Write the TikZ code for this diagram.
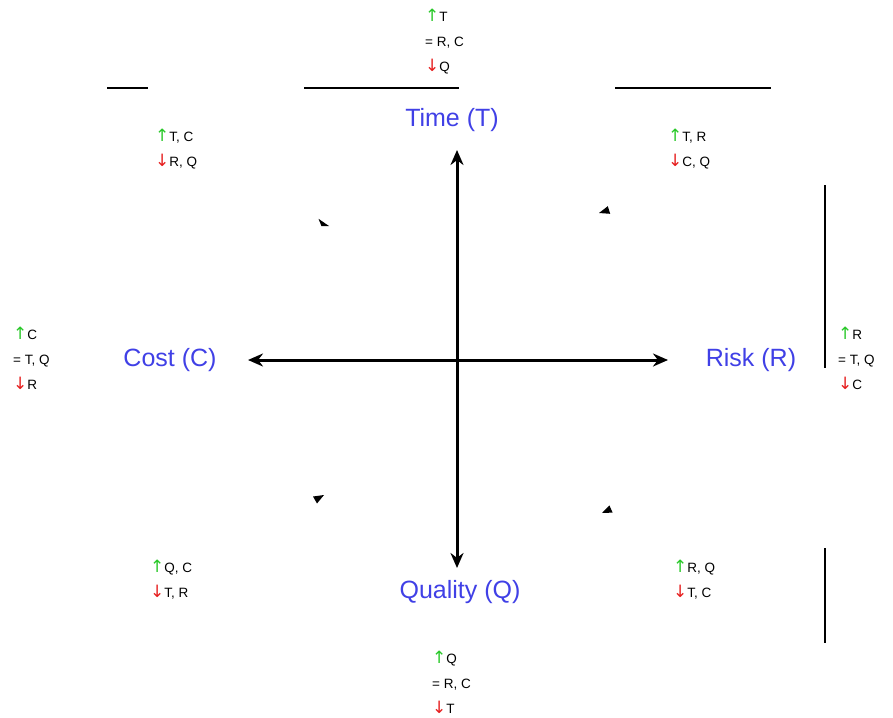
\documentclass[tikz,border=0pt]{standalone}
\usepackage{fontspec}
\setmainfont{Liberation Sans}
\newfontfamily\symfont{DejaVu Sans}
\usepackage{xcolor}
\usetikzlibrary{arrows.meta}

\definecolor{axisblue}{RGB}{64,64,230}
\definecolor{upgreen}{RGB}{40,200,40}
\definecolor{dnred}{RGB}{230,30,30}

\newcommand{\upar}{{\symfont\fontsize{17}{25}\selectfont\textcolor{upgreen}{↑}}}
\newcommand{\dnar}{{\symfont\fontsize{17}{25}\selectfont\textcolor{dnred}{↓}}}

\tikzset{
  axislabel/.style={text=axisblue,font=\fontsize{25}{27}\selectfont,inner sep=0pt},
  trade/.style={anchor=west,align=left,inner sep=0pt,font=\fontsize{13.5}{25}\selectfont},
  axisarrow/.style={line width=3pt,-{Stealth[length=15pt,width=13pt]}},
  bar/.style={line width=1.4pt}
}

\begin{document}
\begin{tikzpicture}[x=1pt,y=-1pt]
    \useasboundingbox (0,0) rectangle (893,717);
    % axes
    \coordinate (o) at (457,360);
    \coordinate (tipT) at (457,150);
    \coordinate (tipQ) at (457,568);
    \coordinate (tipC) at (248,360);
    \coordinate (tipR) at (668,360);
    \draw[axisarrow] (o) -- (tipT);
    \draw[axisarrow] (o) -- (tipQ);
    \draw[axisarrow] (o) -- (tipC);
    \draw[axisarrow] (o) -- (tipR);
    \node[axislabel] (time) at (452,120) {Time (T)};
    \node[axislabel] (cost) at (170,360) {Cost (C)};
    \node[axislabel] (risk) at (751,360) {Risk (R)};
    \node[axislabel] (quality) at (460,592) {Quality (Q)};
    % trade-off notes
    \node[trade] (nT) at (425,42) {\upar T\\= R, C\\\dnar Q};
    \node[trade] (nTC) at (155,149) {\upar T, C\\\dnar R, Q};
    \node[trade] (nTR) at (668,149) {\upar T, R\\\dnar C, Q};
    \node[trade] (nC) at (13,358) {\upar C\\= T, Q\\\dnar R};
    \node[trade] (nR) at (838,358) {\upar R\\= T, Q\\\dnar C};
    \node[trade] (nQC) at (150,580) {\upar Q, C\\\dnar T, R};
    \node[trade] (nRQ) at (673,580) {\upar R, Q\\\dnar T, C};
    \node[trade] (nQ) at (432,682) {\upar Q\\= R, C\\\dnar T};
    % small heads
    \fill (329,226) -- (318.5,218.8) -- (321.5,226.2) -- cycle;
    \fill (599,213) -- (610.2,213.8) -- (607.8,206.2) -- cycle;
    \fill (324,495) -- (317,503.5) -- (313,496.5) -- cycle;
    \fill (602,513) -- (612.6,512.6) -- (609.4,505.4) -- cycle;
    % bars
    \draw[bar] (107,88) -- (148,88);
    \draw[bar] (304,88) -- (459,88);
    \draw[bar] (615,88) -- (771,88);
    \draw[bar] (825,185) -- (825,368);
    \draw[bar] (825,548) -- (825,643);
\end{tikzpicture}
\end{document}
